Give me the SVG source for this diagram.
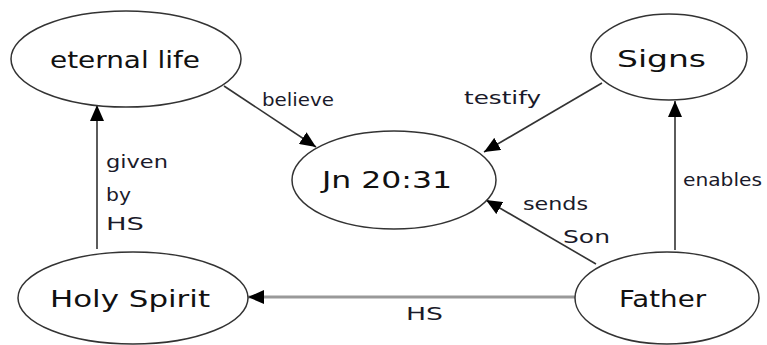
<svg xmlns="http://www.w3.org/2000/svg" width="767" height="345" viewBox="0 0 767 345">
<style>
.node ellipse{fill:#fff;stroke:#333;stroke-width:1.5}
.nt{font-family:"Comic Sans MS","DejaVu Sans",sans-serif;font-size:23px;fill:#111;text-anchor:start}
.lt{font-family:"Comic Sans MS","DejaVu Sans",sans-serif;font-size:17px;fill:#1a1a2a}
.edge{stroke:#333;stroke-width:1.6;fill:none}
</style>
<defs>
<marker id="ah2" viewBox="0 0 16 14" refX="16" refY="7" markerWidth="16" markerHeight="14" markerUnits="userSpaceOnUse" orient="auto">
<path d="M0,0 L16,7 L0,14 z" fill="#000"/>
</marker>
</defs>
<rect width="767" height="345" fill="#fff"/>
<g id="connectors">
<line class="edge" x1="224" y1="86" x2="316" y2="147" marker-end="url(#ah2)"/>
<line class="edge" x1="602" y1="83" x2="484" y2="152" marker-end="url(#ah2)"/>
<line class="edge" x1="97" y1="249" x2="97" y2="105" marker-end="url(#ah2)"/>
<line class="edge" x1="675" y1="250" x2="675" y2="101" marker-end="url(#ah2)"/>
<line class="edge" x1="596" y1="264" x2="486" y2="200" marker-end="url(#ah2)"/>
<line x1="575" y1="297" x2="248" y2="297" stroke="#999" stroke-width="3" marker-end="url(#ah2)"/>
<text class="lt" x="262" y="106" textLength="72" lengthAdjust="spacingAndGlyphs">believe</text>
<text class="lt" x="464" y="104" textLength="77" lengthAdjust="spacingAndGlyphs">testify</text>
<text class="lt" x="106" y="168" textLength="62" lengthAdjust="spacingAndGlyphs">given</text>
<text class="lt" x="106" y="201" textLength="25" lengthAdjust="spacingAndGlyphs">by</text>
<text class="lt" x="106" y="230" textLength="38" lengthAdjust="spacingAndGlyphs">HS</text>
<text class="lt" x="683" y="186" textLength="79" lengthAdjust="spacingAndGlyphs">enables</text>
<text class="lt" x="523" y="210" textLength="65" lengthAdjust="spacingAndGlyphs">sends</text>
<text class="lt" x="563" y="243" textLength="47" lengthAdjust="spacingAndGlyphs">Son</text>
<text class="lt" x="406" y="320" textLength="37" lengthAdjust="spacingAndGlyphs">HS</text>
</g>
<g id="eternal-life" class="node">
<ellipse cx="126" cy="59" rx="115" ry="48"/>
<text class="nt" x="50" y="68" textLength="150" lengthAdjust="spacingAndGlyphs">eternal life</text>
</g>
<g id="signs" class="node">
<ellipse cx="669" cy="57" rx="78" ry="43"/>
<text class="nt" x="617" y="67" textLength="89" lengthAdjust="spacingAndGlyphs">Signs</text>
</g>
<g id="jn2031" class="node">
<ellipse cx="394" cy="180" rx="102" ry="49"/>
<text class="nt" x="322" y="188" textLength="130" lengthAdjust="spacingAndGlyphs">Jn 20:31</text>
</g>
<g id="holy-spirit" class="node">
<ellipse cx="133" cy="298" rx="115" ry="46"/>
<text class="nt" x="50" y="307" textLength="160" lengthAdjust="spacingAndGlyphs">Holy Spirit</text>
</g>
<g id="father" class="node">
<ellipse cx="667" cy="298" rx="92" ry="46"/>
<text class="nt" x="619" y="307" textLength="87" lengthAdjust="spacingAndGlyphs">Father</text>
</g>
</svg>
